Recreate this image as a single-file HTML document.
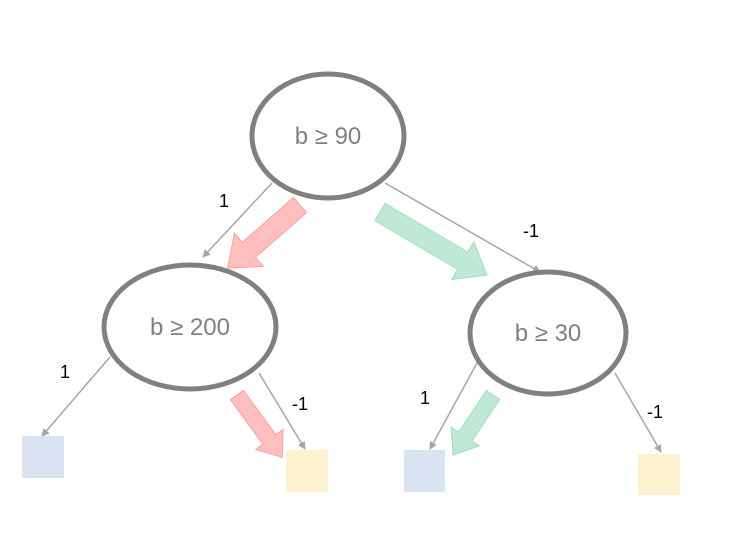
<!DOCTYPE html>
<html><head><meta charset="utf-8"><style>body{margin:0;background:#fff}</style></head><body>
<svg width="732" height="552" xmlns="http://www.w3.org/2000/svg" font-family="Liberation Sans, DejaVu Sans, sans-serif">
<defs><marker id="a" markerWidth="8" markerHeight="8" refX="7" refY="4" orient="auto" markerUnits="userSpaceOnUse"><path d="M0,0 L8,4 L0,8 Z" fill="#a6a6a6"/></marker></defs>
<g stroke="#a6a6a6" stroke-width="1.5" marker-end="url(#a)">
<line x1="272" y1="183" x2="203" y2="257"/>
<line x1="385" y1="183" x2="540" y2="272"/>
<line x1="110" y1="357" x2="42" y2="436"/>
<line x1="259" y1="373" x2="305" y2="449"/>
<line x1="477" y1="363" x2="430" y2="449"/>
<line x1="615" y1="373" x2="661" y2="452"/>
</g>
<g transform="translate(300,205) rotate(138.8)"><path d="M0,-10 L68,-10 L68,-22 L96,0 L68,22 L68,10 L0,10 Z" fill="#ffbfbf" stroke="#ff9f9f"/></g>
<g transform="translate(380,212) rotate(30.5)"><path d="M0,-10 L96,-10 L96,-22 L124,0 L96,22 L96,10 L0,10 Z" fill="#bfe9d4" stroke="#9fdfbf"/></g>
<g transform="translate(237,395) rotate(54)"><path d="M0,-8 L55,-8 L55,-17 L77,0 L55,17 L55,8 L0,8 Z" fill="#ffbfbf" stroke="#ff9f9f"/></g>
<g transform="translate(493,395) rotate(123.7)"><path d="M0,-8 L50,-8 L50,-17 L72,0 L50,17 L50,8 L0,8 Z" fill="#bfe9d4" stroke="#9fdfbf"/></g>
<g fill="#fff" stroke="#808080" stroke-width="5">
<ellipse cx="328" cy="136" rx="76" ry="62"/>
<ellipse cx="190" cy="327" rx="86" ry="62"/>
<ellipse cx="548" cy="333" rx="78" ry="61"/>
</g>
<g fill="#808080" font-size="24" text-anchor="middle">
<text x="328" y="144">b ≥ 90</text>
<text x="190" y="335">b ≥ 200</text>
<text x="548" y="341">b ≥ 30</text>
</g>
<rect x="22" y="436" width="42" height="42" fill="#dae3f1"/>
<rect x="286" y="450" width="42" height="42" fill="#fef1cf"/>
<rect x="404" y="450" width="41" height="42" fill="#dae3f1"/>
<rect x="638" y="454" width="42" height="41" fill="#fef1cf"/>
<g fill="#000" font-size="18" text-anchor="middle">
<text x="224" y="207">1</text>
<text x="531" y="237">-1</text>
<text x="65" y="378">1</text>
<text x="300" y="410">-1</text>
<text x="425" y="404">1</text>
<text x="655" y="418">-1</text>
</g>
</svg>
</body></html>
